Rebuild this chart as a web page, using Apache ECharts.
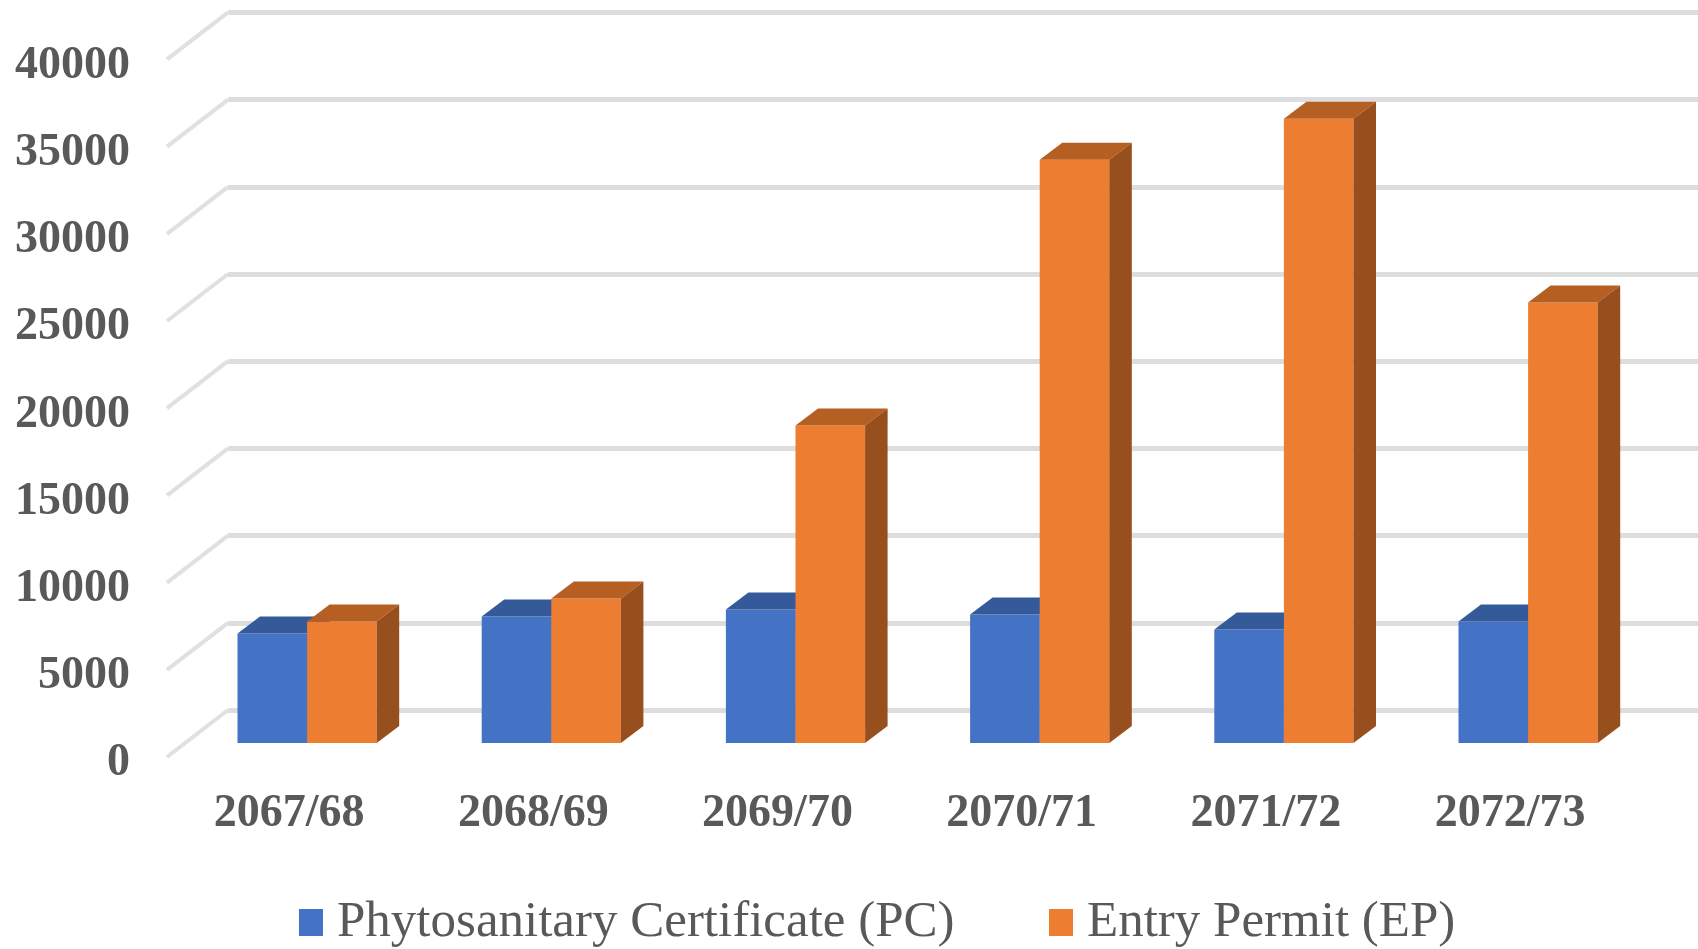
<!DOCTYPE html>
<html>
<head>
<meta charset="utf-8">
<script src="https://cdn.jsdelivr.net/npm/echarts@6/dist/echarts.min.js"></script>
<style>
  html, body { margin: 0; padding: 0; background: #ffffff; }
  #chart { width: 1698px; height: 949px; }
</style>
</head>
<body>
<div id="chart"></div>
<script>
// ---- data ----
const categories = ['2067/68', '2068/69', '2069/70', '2070/71', '2071/72', '2072/73'];
const pcValues = [6280, 7250, 7650, 7370, 6510, 6970];
const epValues = [6970, 8290, 18200, 33450, 35800, 25260];
const yTicks = [0, 5000, 10000, 15000, 20000, 25000, 30000, 35000, 40000];
const seriesNames = ['Phytosanitary Certificate (PC)', 'Entry Permit (EP)'];

// ---- styling / 3D geometry ----
const FONT = 'Liberation Serif';
const TEXT_COLOR = '#595959';
const FLOOR_DX = 61, FLOOR_DY = -47;   // depth of floor (front -> back wall)
const BAR_OFF_DX = 18, BAR_OFF_DY = -14; // bar front plane offset from floor front
const BAR_DX = 22.5, BAR_DY = -17;     // bar depth
const BAR_FRAC = 0.285;                // each bar width as fraction of category band
const faces = [
  { front: '#4472C4', top: '#345A9A', side: '#2F5597' },
  { front: '#ED7D31', top: '#B65F22', side: '#984F1E' }
];

function barRenderer(sIdx) {
  return function (params, api) {
    const cat = api.value(0), val = api.value(1);
    const base = api.coord([cat, 0]);
    const top = api.coord([cat, val]);
    const band = api.size([1, 0])[0];
    const w = band * BAR_FRAC;
    const x0 = (sIdx === 0 ? base[0] - w : base[0]) + BAR_OFF_DX;
    const yB = base[1] + BAR_OFF_DY;
    const yT = top[1] + BAR_OFF_DY;
    const f = faces[sIdx];
    return {
      type: 'group',
      children: [
        { type: 'rect', shape: { x: x0, y: yT, width: w, height: yB - yT },
          style: { fill: f.front } },
        { type: 'polygon', shape: { points: [[x0, yT], [x0 + w, yT], [x0 + w + BAR_DX, yT + BAR_DY], [x0 + BAR_DX, yT + BAR_DY]] },
          style: { fill: f.top } },
        { type: 'polygon', shape: { points: [[x0 + w, yT], [x0 + w + BAR_DX, yT + BAR_DY], [x0 + w + BAR_DX, yB + BAR_DY], [x0 + w, yB]] },
          style: { fill: f.side } }
      ]
    };
  };
}

function sideWallRenderer(params, api) {
  const v = api.value(0);
  const p = api.coord([0, v]);
  const band = api.size([1, 0])[0];
  const x = p[0] - band / 2;
  return {
    type: 'line',
    shape: { x1: x, y1: p[1], x2: x + FLOOR_DX, y2: p[1] + FLOOR_DY },
    style: { stroke: '#e0e0e0', lineWidth: 4 }
  };
}

const chart = echarts.init(document.getElementById('chart'), null, { renderer: 'canvas' });
const legendText = { fontFamily: FONT, fontSize: 51, color: TEXT_COLOR, lineHeight: 50, padding: [0, 0, 0, 9] };
const option = {
  animation: false,
  backgroundColor: '#ffffff',
  color: ['#4472C4', '#ED7D31'],
  grid: [
    { left: 167, top: 59.4, width: 1465.2, height: 697.6 },
    { left: 167 + FLOOR_DX, top: 59.4 + FLOOR_DY, width: 1470, height: 697.6 }
  ],
  xAxis: [
    { type: 'category', gridIndex: 0, data: categories,
      axisLine: { show: false }, axisTick: { show: false },
      axisLabel: { fontFamily: FONT, fontWeight: 'bold', fontSize: 46, color: TEXT_COLOR, margin: 34 } },
    { type: 'category', gridIndex: 1, data: categories, show: false }
  ],
  yAxis: [
    { type: 'value', gridIndex: 0, min: yTicks[0], max: yTicks[yTicks.length - 1], interval: yTicks[1] - yTicks[0],
      axisLine: { show: false }, axisTick: { show: false }, splitLine: { show: false },
      axisLabel: { fontFamily: FONT, fontWeight: 'bold', fontSize: 46, color: TEXT_COLOR, margin: 37,
        verticalAlign: 'top', lineHeight: 13, formatter: v => String(v) } },
    { type: 'value', gridIndex: 1, min: yTicks[0], max: yTicks[yTicks.length - 1], interval: yTicks[1] - yTicks[0],
      axisLine: { show: false }, axisTick: { show: false }, axisLabel: { show: false },
      splitLine: { show: true, lineStyle: { color: '#dddddd', width: 5 } } }
  ],
  legend: [
    { data: [seriesNames[0]], left: 299, top: 897, padding: 0, icon: 'rect', itemWidth: 24, itemHeight: 27,
      textStyle: legendText },
    { data: [seriesNames[1]], left: 1049, top: 897, padding: 0, icon: 'rect', itemWidth: 24, itemHeight: 27,
      textStyle: legendText }
  ],
  series: [
    { type: 'custom', name: 'sidewall', xAxisIndex: 0, yAxisIndex: 0, silent: true, z: 1,
      data: yTicks.map(v => [v]), encode: { y: 0 }, renderItem: sideWallRenderer },
    { type: 'custom', name: seriesNames[0], xAxisIndex: 0, yAxisIndex: 0, z: 2,
      itemStyle: { color: '#4472C4' },
      data: categories.map((c, i) => [i, pcValues[i]]), encode: { x: 0, y: 1 },
      renderItem: barRenderer(0) },
    { type: 'custom', name: seriesNames[1], xAxisIndex: 0, yAxisIndex: 0, z: 3,
      itemStyle: { color: '#ED7D31' },
      data: categories.map((c, i) => [i, epValues[i]]), encode: { x: 0, y: 1 },
      renderItem: barRenderer(1) }
  ]
};
chart.setOption(option);
</script>
</body>
</html>
